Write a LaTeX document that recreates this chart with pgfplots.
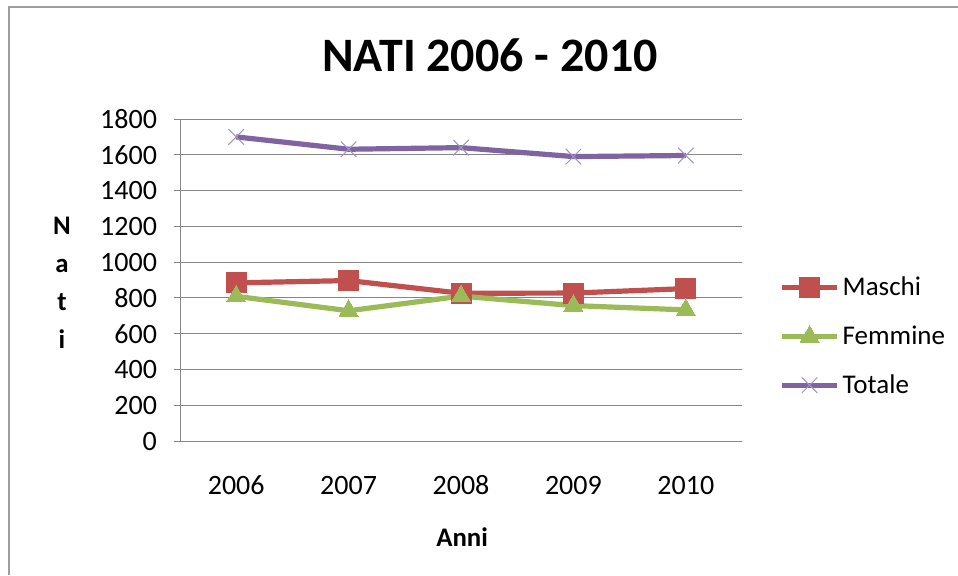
\documentclass[border=0pt]{standalone}
\usepackage{pgfplots}
\pgfplotsset{compat=1.18}
\usepackage{fontspec}
\setmainfont{Carlito}

\definecolor{cmaschi}{HTML}{C0504D}
\definecolor{cfemmine}{HTML}{9BBB59}
\definecolor{ctotale}{HTML}{8064A2}
\definecolor{ctotmark}{HTML}{A593C4}
\definecolor{cgrid}{HTML}{868686}

\begin{document}
\begin{tikzpicture}
% picture frame (1px = 0.5pt)
\useasboundingbox (0,0) rectangle (479pt,-287.5pt);
\draw[cgrid!80, line width=1pt] (4.5pt,-287.5pt) -- (4.5pt,-3.5pt) -- (479pt,-3.5pt);

\begin{axis}[
    at={(90pt,-220.5pt)}, anchor=south west,
    scale only axis,
    width=281pt, height=161pt,
    xmin=-0.5, xmax=4.5,
    ymin=0, ymax=1800,
    ytick={0,200,...,1800},
    xtick={0,1,2,3,4},
    xticklabels={2006,2007,2008,2009,2010},
    extra x ticks={-0.5,0.5,1.5,2.5,3.5,4.5},
    extra x tick labels={},
    extra x tick style={major tick length=3pt, tick style={cgrid, line width=0.5pt}},
    x tick style={draw=none},
    y tick style={cgrid, line width=0.5pt},
    major tick length=3pt,
    tick align=outside,
    axis lines*=left,
    axis line style={cgrid, line width=0.5pt, -},
    ymajorgrids,
    grid style={cgrid, line width=0.5pt},
    /pgf/number format/assume math mode=true,
    /pgf/number format/1000 sep={},
    tick label style={font=\fontsize{14}{16}\selectfont},
    yticklabel style={xshift=-5pt},
    xticklabel style={yshift=-10pt, text height=10pt, text depth=0pt, anchor=north},
    title={NATI 2006 - 2010},
    title style={at={(rel axis cs:0.5516,1.16)}, anchor=center, font=\fontsize{24}{29}\selectfont\bfseries},
    xlabel={Anni},
    xlabel style={at={(rel axis cs:0.502,-0.298)}, anchor=center, font=\fontsize{13.4}{16}\selectfont\bfseries},
    ylabel={N\\a\\t\\i},
    ylabel style={at={(rel axis cs:-0.21,0.49)}, anchor=center, rotate=-90, align=center, font=\fontsize{13.4}{19}\selectfont\bfseries},
    legend style={at={(rel axis cs:1.066,0.3245)}, anchor=west, draw=none, fill=none,
        font=\fontsize{13.5}{16}\selectfont, row sep=10.5pt, inner sep=0pt,
        nodes={inner sep=1.5pt}},
    legend cell align=left,
    legend image code/.code={
        \draw[mark repeat=2, mark phase=2, #1] plot coordinates {(0pt,0pt) (13.75pt,0pt) (27.5pt,0pt)};
    },
]
\addplot[cmaschi, line width=2.6pt, mark=square*, mark size=5pt, mark options={solid, line width=0pt, fill=cmaschi}]
coordinates {(0,884) (1,897) (2,826) (3,827) (4,852)};
\addlegendentry{Maschi}

\addplot[cfemmine, line width=2.6pt, mark=triangle*, mark size=5.5pt, mark options={solid, line width=0pt, fill=cfemmine}]
coordinates {(0,809) (1,728) (2,810) (3,757) (4,733)};
\addlegendentry{Femmine}

\addplot[ctotale, line width=2.6pt, mark=x, mark size=5.5pt, mark options={solid, line width=0.5pt, draw=ctotmark}]
coordinates {(0,1700) (1,1631) (2,1640) (3,1590) (4,1596)};
\addlegendentry{Totale}
\end{axis}
\end{tikzpicture}
\end{document}
